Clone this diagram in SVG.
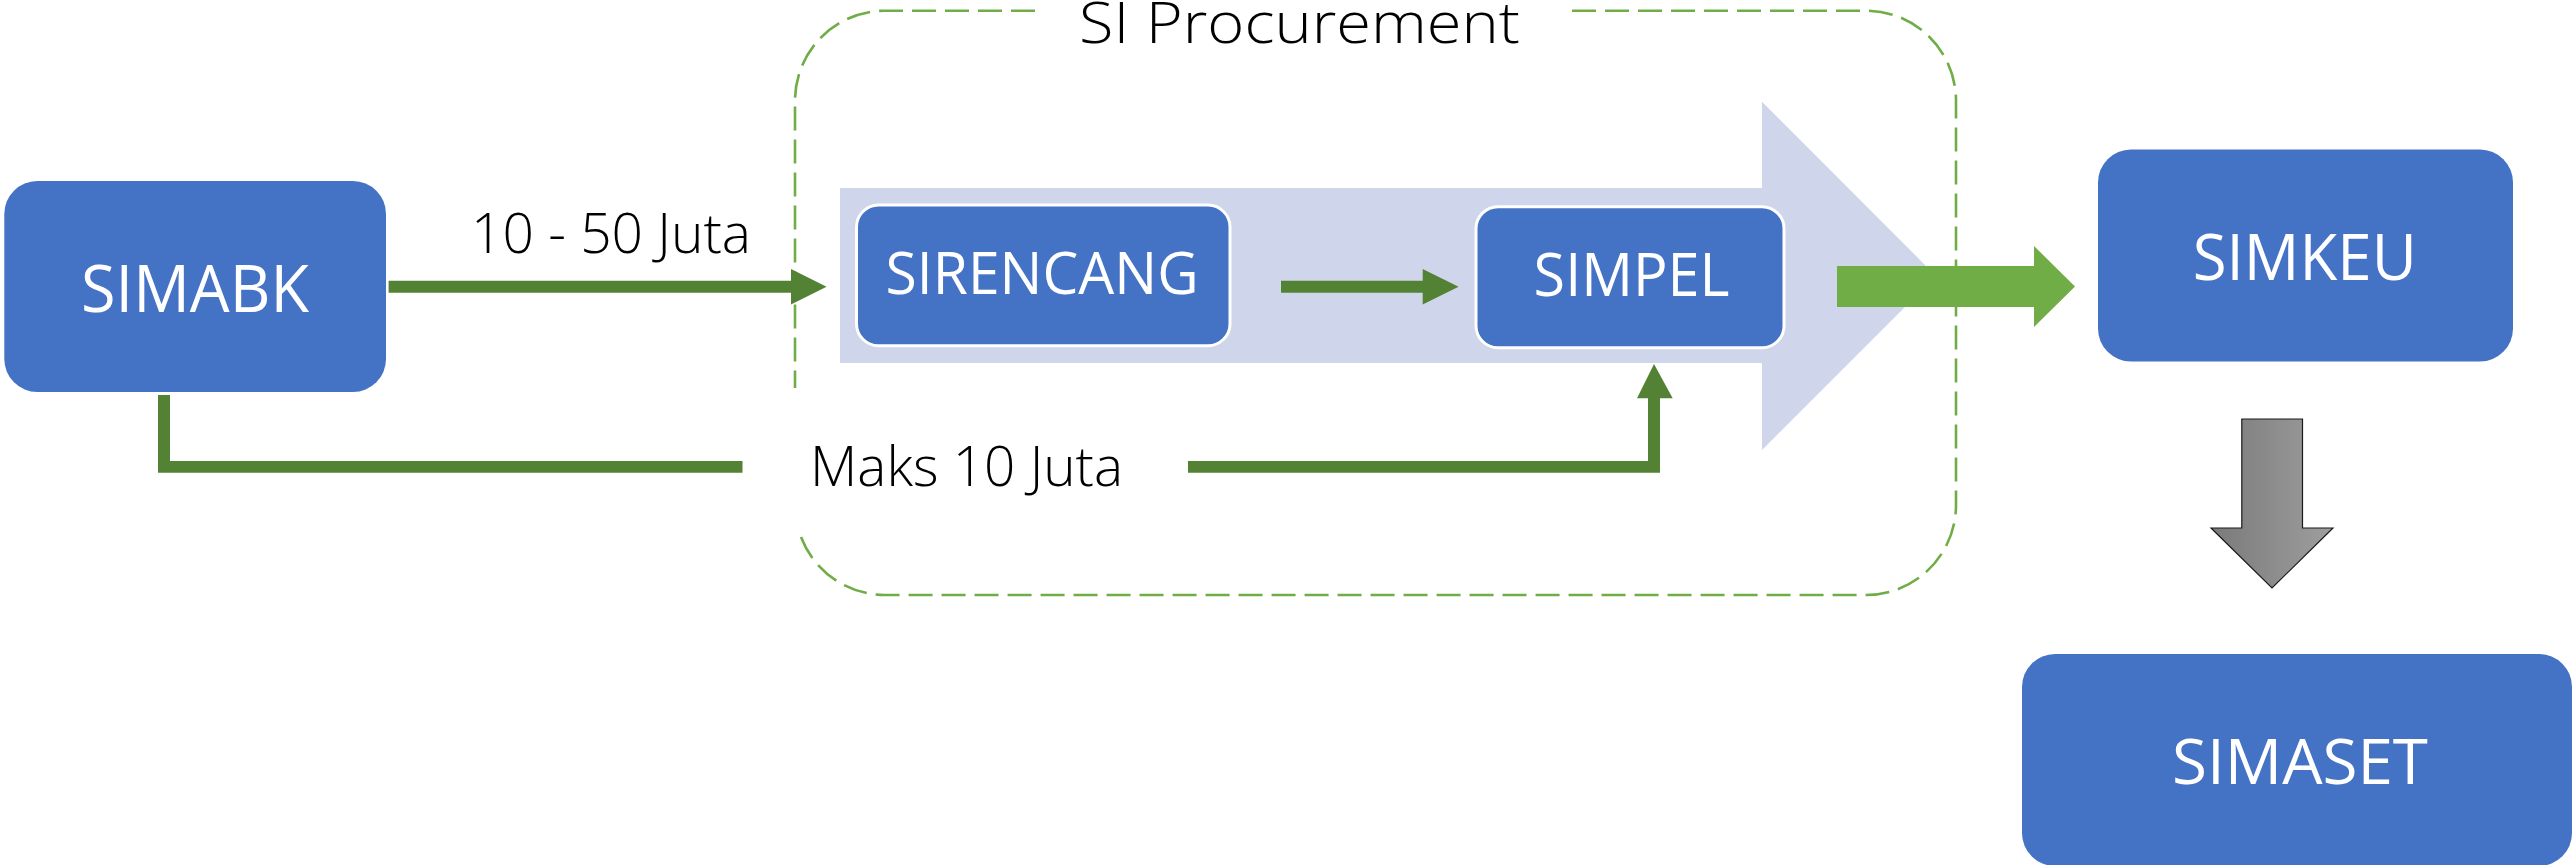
<svg xmlns="http://www.w3.org/2000/svg" width="2574" height="865" viewBox="0 0 2574 865">
<style>
.box{fill:#4472C4;}
.inner{fill:#4472C4;stroke:#FFFFFF;stroke-width:3;}
.btxt{font-family:"Open Sans","Noto Sans","DejaVu Sans",sans-serif;fill:#FFFFFF;}
.lbl{font-family:"Open Sans","Noto Sans","DejaVu Sans",sans-serif;font-weight:300;fill:#000000;}
.dk{fill:#548235;}
.lt{fill:#70AD47;}
.frame{fill:none;stroke:#70AD47;stroke-width:2.6;stroke-dasharray:24 9;}
</style>
<defs>
<linearGradient id="grey" x1="0" y1="0" x2="1" y2="0">
<stop offset="0" stop-color="#7A7A7A"/>
<stop offset="1" stop-color="#9E9E9E"/>
</linearGradient>
</defs>
<rect width="2574" height="865" fill="#FFFFFF"/>

<g id="procurement-group">
<path d="M840,188 H1762 V101.7 L1936,276 L1762,450 V363 H840 Z" fill="#CFD5EA"/>
<path class="frame" d="M1035,10.7 H885 A90,90 0 0 0 795,100.7 V388"/>
<path class="frame" d="M801,537 A90,90 0 0 0 885,595 H1866 A90,90 0 0 0 1956,505 V100.7 A90,90 0 0 0 1866,10.7 H1563"/>
<text class="lbl" x="1079" y="43" font-size="57" textLength="441" lengthAdjust="spacingAndGlyphs">SI Procurement</text>
</g>

<g id="connectors">
<path class="dk" d="M388.6,280.7 H791 V269 L826.6,286.7 L791,304.4 V292.7 H388.6 Z"/>
<path class="dk" d="M158,395 H170 V461 H742.5 V472.7 H158 Z"/>
<path class="dk" d="M1188,461 H1648 V398.3 H1637 L1654,364 L1672.7,398.3 H1660 V472.7 H1188 Z"/>
<path class="dk" d="M1281,280.7 H1422.7 V269 L1458.6,286.7 L1422.7,304.4 V292.7 H1281 Z"/>
<path class="lt" d="M1837,266 H2034 V246 L2075,286.5 L2034,327 V307 H1837 Z"/>
<path d="M2241.8,419 H2302.5 V528 H2333 L2272,588 L2211,528 H2241.8 Z" fill="url(#grey)" stroke="#1A1A1A" stroke-width="1.2"/>
<text class="lbl" x="471" y="252.7" font-size="56" textLength="280" lengthAdjust="spacingAndGlyphs">10 - 50 Juta</text>
<text class="lbl" x="810" y="486" font-size="55" textLength="313" lengthAdjust="spacingAndGlyphs">Maks 10 Juta</text>
</g>

<g id="simabk">
<rect class="box" x="4.3" y="181" width="381.7" height="211" rx="33"/>
<text class="btxt" x="81" y="312" font-size="66" textLength="228" lengthAdjust="spacingAndGlyphs">SIMABK</text>
</g>

<g id="sirencang">
<rect class="inner" x="856.5" y="205" width="373.5" height="140.7" rx="22"/>
<text class="btxt" x="885.6" y="294" font-size="59" textLength="313" lengthAdjust="spacingAndGlyphs">SIRENCANG</text>
</g>

<g id="simpel">
<rect class="inner" x="1476" y="206.7" width="308" height="141" rx="22"/>
<text class="btxt" x="1533.6" y="296" font-size="60" textLength="196" lengthAdjust="spacingAndGlyphs">SIMPEL</text>
</g>

<g id="simkeu">
<rect class="box" x="2098" y="149.5" width="415" height="212" rx="33"/>
<text class="btxt" x="2192.7" y="279.5" font-size="64" textLength="224" lengthAdjust="spacingAndGlyphs">SIMKEU</text>
</g>

<g id="simaset">
<rect class="box" x="2022" y="654" width="550" height="212" rx="33"/>
<text class="btxt" x="2172" y="784" font-size="63" textLength="256" lengthAdjust="spacingAndGlyphs">SIMASET</text>
</g>
</svg>
